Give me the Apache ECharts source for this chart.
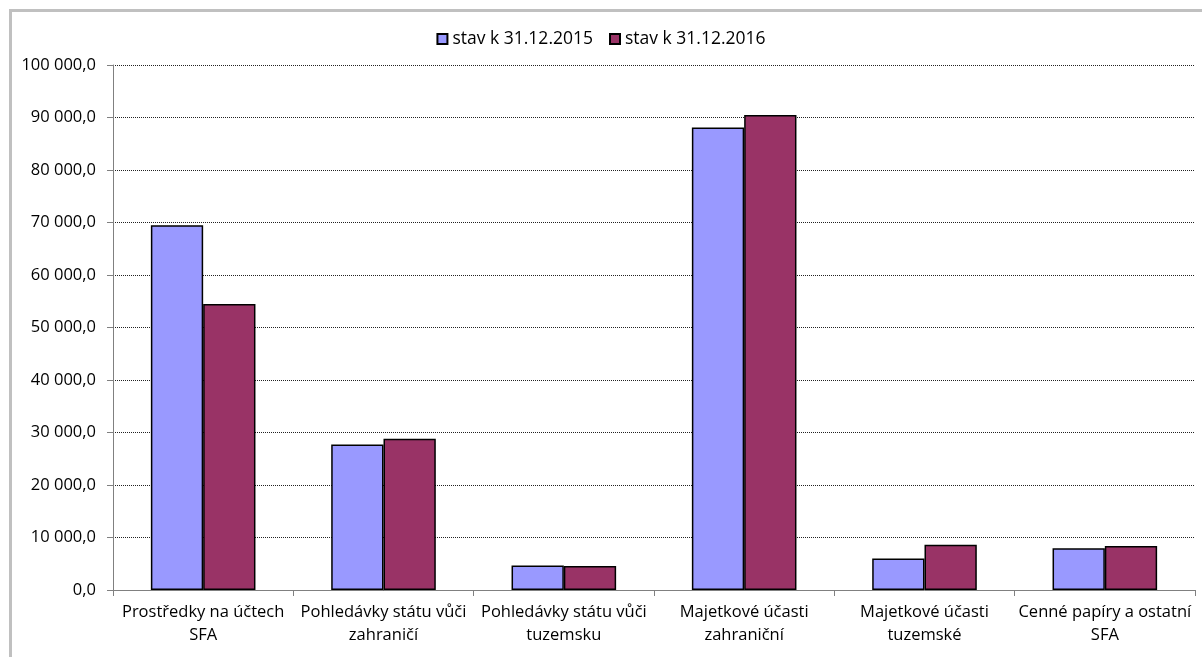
<!DOCTYPE html>
<html>
<head>
<meta charset="utf-8">
<script src="https://cdn.jsdelivr.net/npm/echarts@6/dist/echarts.min.js"></script>
<style>
html,body{margin:0;padding:0;background:#fff;}
#c{width:1202px;height:657px;}
</style>
</head>
<body>
<div id="c"></div>
<script>
const categories = [
  'Prostředky na účtech\nSFA',
  'Pohledávky státu vůči\nzahraničí',
  'Pohledávky státu vůči\ntuzemsku',
  'Majetkové účasti\nzahraniční',
  'Majetkové účasti\ntuzemské',
  'Cenné papíry a ostatní\nSFA'
];
const seriesNames = ['stav k 31.12.2015', 'stav k 31.12.2016'];
const values2015 = [69500, 27700, 4650, 88100, 6000, 7950];
const values2016 = [54500, 28800, 4550, 90500, 8600, 8400];
const yTicks = { min: 0, max: 100000, interval: 10000 };

function fmt(v){
  const s = String(Math.round(v));
  return s.replace(/\B(?=(\d{3})+(?!\d))/g, ' ') + ',0';
}

const FONT = 'Open Sans';
const chart = echarts.init(document.getElementById('c'), null, {renderer:'canvas'});
chart.setOption({
  backgroundColor: '#fff',
  animation: false,
  textStyle: { fontFamily: FONT, color: '#000' },
  graphic: [{
    type: 'rect', silent: true,
    shape: { x: 10.5, y: 10.5, width: 1300, height: 800 },
    style: { fill: 'none', stroke: '#c0c0c0', lineWidth: 3 }
  }],
  legend: {
    top: 25, left: 'center',
    itemWidth: 10, itemHeight: 10, itemGap: 16,
    icon: 'rect',
    textStyle: { fontFamily: FONT, fontSize: 17.5, color: '#000' },
    data: seriesNames
  },
  grid: { left: 113, right: 7, top: 65, bottom: 67, containLabel: false },
  xAxis: {
    type: 'category',
    data: categories,
    axisLine: { show: true, lineStyle: { color: '#808080', width: 1 } },
    axisTick: { show: true, length: 6, lineStyle: { color: '#808080' } },
    axisLabel: { fontFamily: FONT, fontSize: 16.5, color: '#000', lineHeight: 23, margin: 11, interval: 0 },
    splitLine: { show: false }
  },
  yAxis: {
    type: 'value',
    min: yTicks.min, max: yTicks.max, interval: yTicks.interval,
    axisLine: { show: true, lineStyle: { color: '#808080', width: 1 } },
    axisTick: { show: true, length: 6, lineStyle: { color: '#808080' } },
    axisLabel: { fontFamily: FONT, fontSize: 16.5, color: '#000', margin: 17, formatter: fmt },
    splitLine: { show: true, lineStyle: { color: '#222', type: [1,1], width: 1 } }
  },
  series: [
    {
      name: seriesNames[0], type: 'bar', data: values2015,
      barGap: '0%', barCategoryGap: '42%',
      itemStyle: { color: '#9999FF', borderColor: '#000', borderWidth: 1.5 }
    },
    {
      name: seriesNames[1], type: 'bar', data: values2016,
      barGap: '0%', barCategoryGap: '42%',
      itemStyle: { color: '#993366', borderColor: '#000', borderWidth: 1.5 }
    }
  ]
});
</script>
</body>
</html>
